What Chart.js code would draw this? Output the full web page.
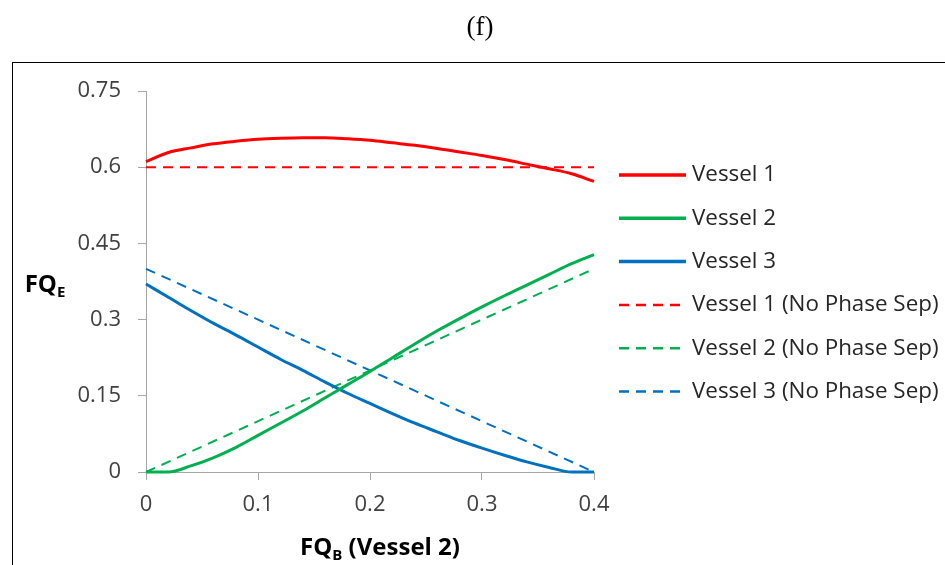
<!DOCTYPE html>
<html>
<head>
<meta charset="utf-8">
<script src="https://cdn.jsdelivr.net/npm/chart.js@4/dist/chart.umd.min.js"></script>
<style>
  html, body { margin: 0; padding: 0; background: #fff; }
  #wrap { width: 945px; height: 565px; position: relative; }
</style>
</head>
<body>
<div id="wrap"><canvas id="fqChart" width="945" height="565"></canvas></div>
<script>
// FQB sample points (Vessel 2)
const fqB = [0, 0.02, 0.04, 0.06, 0.08, 0.10, 0.12, 0.14, 0.16, 0.18, 0.20,
             0.22, 0.24, 0.26, 0.28, 0.30, 0.32, 0.34, 0.36, 0.38, 0.40];

// with phase separation
const vessel1 = [0.611, 0.629, 0.638, 0.646, 0.651, 0.655, 0.657, 0.658, 0.658, 0.656, 0.653,
                 0.648, 0.643, 0.637, 0.630, 0.623, 0.615, 0.606, 0.597, 0.587, 0.572];
const vessel2 = [0, 0, 0.012, 0.028, 0.048, 0.072, 0.096, 0.120, 0.146, 0.172, 0.198,
                 0.225, 0.252, 0.278, 0.302, 0.325, 0.347, 0.368, 0.389, 0.410, 0.428];
const vessel3 = [0.370, 0.344, 0.318, 0.293, 0.270, 0.246, 0.222, 0.200, 0.177, 0.155, 0.135,
                 0.115, 0.096, 0.079, 0.062, 0.047, 0.033, 0.020, 0.009, 0, 0];

// no phase separation
const noSepB = [0, 0.4];
const vessel1NoSep = [0.6, 0.6];
const vessel2NoSep = [0, 0.4];
const vessel3NoSep = [0.4, 0];

const xTicks = [0, 0.1, 0.2, 0.3, 0.4];
const yTicks = [0, 0.15, 0.3, 0.45, 0.6, 0.75];

const RED = '#ff0000', GREEN = '#00b050', BLUE = '#0070c0';
const FONT = '"Open Sans", sans-serif';

function pts(xs, ys) {
  return xs.map((x, i) => ({ x: x, y: ys[i] }));
}

function solid(label, xs, ys, color) {
  return {
    label, data: pts(xs, ys), borderColor: color, backgroundColor: color,
    borderWidth: 3, pointRadius: 0, cubicInterpolationMode: 'monotone', clip: false
  };
}

function dashed(label, xs, ys, color) {
  return {
    label, data: pts(xs, ys), borderColor: color, backgroundColor: color,
    borderWidth: 2, borderDash: [10, 7], pointRadius: 0, clip: false
  };
}

// text with a subscript part, e.g. FQ + E
function subText(ctx, main, sub, rest, x, y, size) {
  const big = 'bold ' + size + 'px ' + FONT;
  const small = 'bold ' + Math.round(size * 0.62) + 'px ' + FONT;
  ctx.font = big;
  const w1 = ctx.measureText(main).width;
  const w3 = rest ? ctx.measureText(rest).width : 0;
  ctx.font = small;
  const w2 = ctx.measureText(sub).width;
  let cx = x - (w1 + w2 + w3) / 2;
  ctx.textAlign = 'left';
  ctx.textBaseline = 'alphabetic';
  ctx.font = big;
  ctx.fillText(main, cx, y);
  cx += w1;
  ctx.font = small;
  ctx.fillText(sub, cx, y + size * 0.22);
  cx += w2;
  if (rest) {
    ctx.font = big;
    ctx.fillText(rest, cx, y);
  }
}

const decorations = {
  id: 'decorations',
  afterDraw(chart) {
    const ctx = chart.ctx;
    ctx.save();

    // panel title
    ctx.fillStyle = '#000';
    ctx.font = '27px "Liberation Serif", serif';
    ctx.textAlign = 'center';
    ctx.textBaseline = 'middle';
    ctx.fillText('(f)', 480, 28);

    // frame around the chart
    ctx.strokeStyle = '#000';
    ctx.lineWidth = 1;
    ctx.strokeRect(12.5, 62.5, 1000, 600);

    // axis titles
    ctx.fillStyle = '#000';
    subText(ctx, 'FQ', 'E', '', 45, 292, 24);
    subText(ctx, 'FQ', 'B', ' (Vessel 2)', 380, 555, 24);

    // legend
    const x0 = 619, step = 43.3, textX = 692;
    chart.data.datasets.forEach((ds, i) => {
      const y = 175 + i * step;
      ctx.beginPath();
      ctx.strokeStyle = ds.borderColor;
      ctx.lineWidth = ds.borderDash ? 2.5 : 3.5;
      ctx.setLineDash(ds.borderDash || []);
      ctx.moveTo(x0, y);
      ctx.lineTo(ds.borderDash ? 681 : 686, y);
      ctx.stroke();
      ctx.setLineDash([]);
      ctx.fillStyle = '#262626';
      ctx.font = '22.4px ' + FONT;
      ctx.textAlign = 'left';
      ctx.textBaseline = 'middle';
      ctx.fillText(ds.label, textX, y);
    });
    ctx.restore();
  }
};

const axisGrid = {
  drawOnChartArea: false, drawTicks: true, tickLength: 8, color: '#a6a6a6'
};

new Chart(document.getElementById('fqChart'), {
  type: 'line',
  data: {
    datasets: [
      solid('Vessel 1', fqB, vessel1, RED),
      solid('Vessel 2', fqB, vessel2, GREEN),
      solid('Vessel 3', fqB, vessel3, BLUE),
      dashed('Vessel 1 (No Phase Sep)', noSepB, vessel1NoSep, RED),
      dashed('Vessel 2 (No Phase Sep)', noSepB, vessel2NoSep, GREEN),
      dashed('Vessel 3 (No Phase Sep)', noSepB, vessel3NoSep, BLUE)
    ]
  },
  options: {
    responsive: false,
    animation: false,
    layout: { padding: { left: 0, right: 351, top: 91, bottom: 0 } },
    plugins: {
      legend: { display: false },
      tooltip: { enabled: false }
    },
    scales: {
      x: {
        type: 'linear', min: 0, max: 0.4,
        grid: axisGrid,
        border: { color: '#a6a6a6', width: 1 },
        afterBuildTicks: (s) => { s.ticks = xTicks.map(v => ({ value: v })); },
        afterFit: (s) => { s.height = 93; },
        ticks: {
          padding: 12, color: '#404040', font: { family: FONT, size: 22 },
          maxRotation: 0, callback: (v) => String(v)
        }
      },
      y: {
        min: 0, max: 0.75,
        grid: axisGrid,
        border: { color: '#a6a6a6', width: 1 },
        afterBuildTicks: (s) => { s.ticks = yTicks.map(v => ({ value: v })); },
        afterFit: (s) => { s.width = 146; },
        ticks: {
          padding: 17, color: '#404040', font: { family: FONT, size: 22 },
          callback: (v) => String(v)
        }
      }
    }
  },
  plugins: [decorations]
});
</script>
</body>
</html>
